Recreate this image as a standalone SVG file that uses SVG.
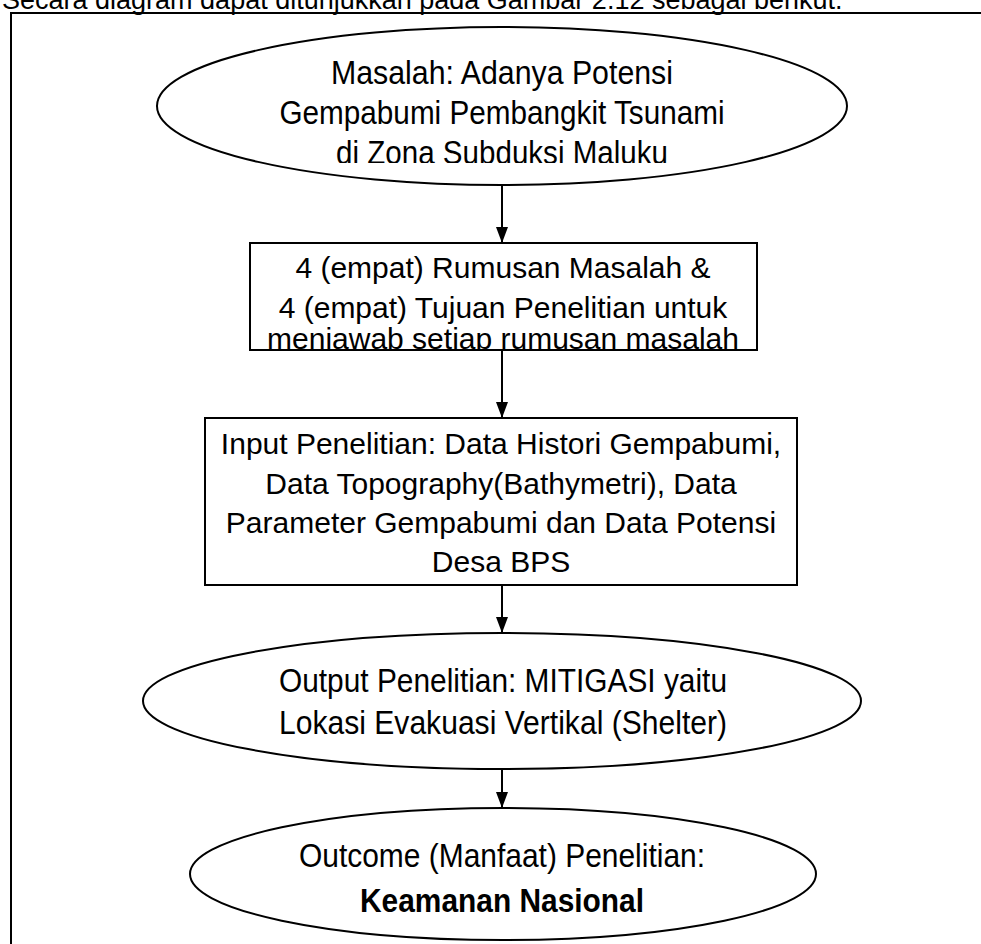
<svg xmlns="http://www.w3.org/2000/svg" width="981" height="944" viewBox="0 0 981 944">
  <style>
    .shape { fill: #ffffff; stroke: #000000; stroke-width: 2; }
    .frame { fill: none; stroke: #000000; stroke-width: 2; }
    .txt { font-family: "Liberation Sans", Arial, sans-serif; font-size: 30px; fill: #000000; text-anchor: middle; }
    .narrow { font-size: 33px; }
    .bold { font-weight: bold; }
    .caption { font-family: "Liberation Sans", Arial, sans-serif; font-size: 27px; fill: #000000; }
    .link { stroke: #000000; stroke-width: 2; fill: none; marker-end: url(#arrow); }
  </style>
  <defs>
    <marker id="arrow" viewBox="0 0 16 12" refX="16" refY="6" markerWidth="16" markerHeight="12" markerUnits="userSpaceOnUse" orient="auto">
      <path d="M0,0 L16,6 L0,12 Z" fill="#000000"/>
    </marker>
    <clipPath id="clipProblem">
      <rect x="150" y="20" width="700" height="143"/>
    </clipPath>
    <clipPath id="clipGoals">
      <rect x="250" y="243" width="507" height="107"/>
    </clipPath>
  </defs>

  <!-- introductory sentence, partly above the page edge -->
  <text class="caption" x="2" y="9">Secara diagram dapat ditunjukkan pada Gambar 2.12 sebagai berikut.</text>

  <!-- surrounding frame -->
  <rect class="frame" x="11" y="13" width="990" height="960"/>

  <g id="connectors">
    <line class="link" x1="502" y1="185" x2="502" y2="243"/>
    <line class="link" x1="502" y1="350" x2="502" y2="418"/>
    <line class="link" x1="502" y1="585" x2="502" y2="633"/>
    <line class="link" x1="502" y1="770" x2="502" y2="808"/>
  </g>

  <g id="problem">
    <ellipse class="shape" cx="502" cy="106" rx="345" ry="79"/>
    <g clip-path="url(#clipProblem)">
      <text class="txt narrow" x="502" y="84" textLength="342" lengthAdjust="spacingAndGlyphs">Masalah: Adanya Potensi</text>
      <text class="txt narrow" x="502" y="124" textLength="445" lengthAdjust="spacingAndGlyphs">Gempabumi Pembangkit Tsunami</text>
      <text class="txt narrow" x="502" y="164" textLength="332" lengthAdjust="spacingAndGlyphs">di Zona Subduksi Maluku</text>
    </g>
  </g>

  <g id="goals">
    <rect class="shape" x="250" y="243" width="507" height="107"/>
    <g clip-path="url(#clipGoals)">
      <text class="txt" x="503" y="278">4 (empat) Rumusan Masalah &amp;</text>
      <text class="txt" x="503" y="318">4 (empat) Tujuan Penelitian untuk</text>
      <text class="txt" x="503" y="349">menjawab setiap rumusan masalah</text>
    </g>
  </g>

  <g id="input">
    <rect class="shape" x="205" y="418" width="592" height="167"/>
    <text class="txt" x="501" y="454">Input Penelitian: Data Histori Gempabumi,</text>
    <text class="txt" x="501" y="494">Data Topography(Bathymetri), Data</text>
    <text class="txt" x="501" y="533">Parameter Gempabumi dan Data Potensi</text>
    <text class="txt" x="501" y="572">Desa BPS</text>
  </g>

  <g id="output">
    <ellipse class="shape" cx="502" cy="701" rx="359" ry="68"/>
    <text class="txt narrow" x="503" y="692" textLength="448" lengthAdjust="spacingAndGlyphs">Output Penelitian: MITIGASI yaitu</text>
    <text class="txt narrow" x="503" y="734" textLength="448" lengthAdjust="spacingAndGlyphs">Lokasi Evakuasi Vertikal (Shelter)</text>
  </g>

  <g id="outcome">
    <ellipse class="shape" cx="503" cy="874" rx="313" ry="66"/>
    <text class="txt narrow" x="502" y="867" textLength="406" lengthAdjust="spacingAndGlyphs">Outcome (Manfaat) Penelitian:</text>
    <text class="txt narrow bold" x="502" y="912" textLength="284" lengthAdjust="spacingAndGlyphs">Keamanan Nasional</text>
  </g>
</svg>
